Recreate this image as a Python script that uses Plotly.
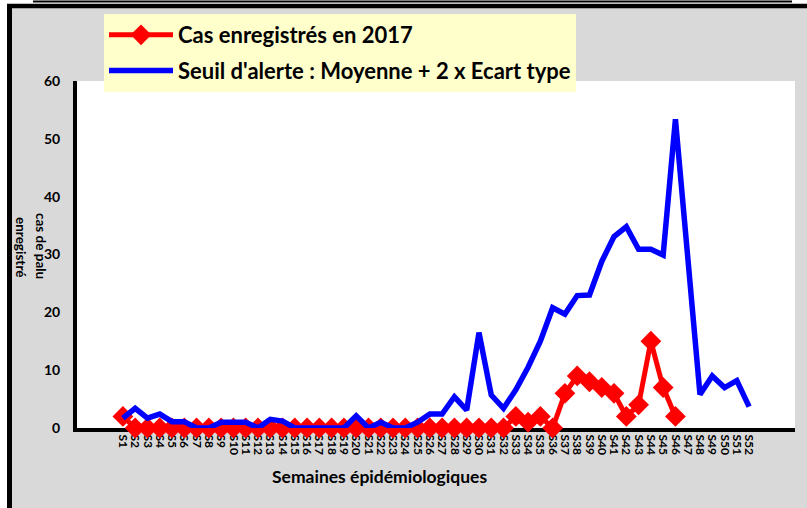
import plotly.graph_objects as go

weeks = [f"S{i}" for i in range(1, 53)]

cas_2017 = [2, 0, 0, 0, 0, 0, 0, 0, 0, 0,
            0, 0, 0, 0, 0, 0, 0, 0, 0, 0,
            0, 0, 0, 0, 0, 0, 0, 0, 0, 0,
            0, 0, 2, 1, 2, 0, 6, 9, 8, 7,
            6, 2, 4, 15, 7, 2, None, None, None, None,
            None, None]

seuil_alerte = [1.7, 3.4, 1.7, 2.4, 1.1, 1.1, 0, 0, 1, 1,
                1, 0, 1.5, 1.2, 0, 0, 0, 0, 0, 2.1,
                0, 1, 0, 0, 1, 2.4, 2.4, 5.4, 3.1, 16.5,
                5.7, 3.4, 6.6, 10.5, 15, 20.8, 19.7, 22.9, 23, 28.8,
                33.1, 34.8, 30.9, 30.9, 29.9, 53.4, 29.5, 5.8, 9, 7,
                8.2, 3.7]

y_ticks = [0, 10, 20, 30, 40, 50, 60]

FONT = "Lato"
W, H = 807, 508
L, R, T, B = 77, 12, 81, 80
PW, PH = W - L - R, H - T - B


def px_x(x):
    return (x - L) / PW


def px_y(y):
    return (H - B - y) / PH


fig = go.Figure()
fig.add_trace(go.Scatter(
    x=weeks, y=cas_2017, name="Cas enregistrés en 2017",
    mode="lines+markers",
    line=dict(color="#ff0000", width=5),
    marker=dict(symbol="diamond", size=16, color="#ff0000"),
    cliponaxis=False, legendgroup="a",
))
fig.add_trace(go.Scatter(
    x=weeks, y=seuil_alerte, name="Seuil d'alerte : Moyenne + 2 x Ecart type",
    mode="lines",
    line=dict(color="#0000ff", width=5.5),
    cliponaxis=False, legendgroup="b",
))

shapes = [
    dict(type="rect", xref="paper", yref="paper", x0=px_x(-5), x1=px_x(7), y0=px_y(H + 5), y1=px_y(-5),
         fillcolor="white", line=dict(width=0)),
    dict(type="rect", xref="paper", yref="paper", x0=px_x(-5), x1=px_x(W + 5), y0=px_y(4), y1=px_y(-5),
         fillcolor="white", line=dict(width=0)),
    dict(type="line", xref="paper", yref="paper", x0=px_x(33), x1=px_x(792), y0=px_y(1.5), y1=px_y(1.5),
         line=dict(color="black", width=2)),
    dict(type="line", xref="paper", yref="paper", x0=px_x(7), x1=px_x(W + 5), y0=px_y(6), y1=px_y(6),
         line=dict(color="black", width=4.5)),
    dict(type="line", xref="paper", yref="paper", x0=px_x(9.5), x1=px_x(9.5), y0=px_y(4), y1=px_y(H + 5),
         line=dict(color="black", width=5)),
]

fig.update_layout(
    width=W, height=H,
    margin=dict(l=L, r=R, t=T, b=B, autoexpand=False),
    paper_bgcolor="#d9d9d9",
    plot_bgcolor="white",
    font=dict(family=FONT, color="black", weight="bold"),
    showlegend=True,
    legend=dict(
        x=px_x(104), y=px_y(14), xanchor="left", yanchor="top",
        bgcolor="#ffffcc", borderwidth=0,
        font=dict(family=FONT, size=22, color="black", weight="bold"),
        tracegroupgap=4, traceorder="grouped",
        itemwidth=64,
    ),
    xaxis=dict(
        type="category", categoryorder="array", categoryarray=weeks,
        tickmode="array", tickvals=weeks, ticktext=weeks,
        showline=True, linecolor="black", linewidth=4, mirror=False,
        showgrid=False, zeroline=False, ticks="", tickangle=90,
        tickfont=dict(family=FONT, size=12, color="black", weight="bold"),
        layer="below traces", automargin=False,
    ),
    yaxis=dict(
        range=[0, 60], tickvals=y_ticks, ticktext=[str(v) for v in y_ticks],
        showline=True, linecolor="black", linewidth=4,
        showgrid=False, zeroline=False, ticks="",
        tickfont=dict(family=FONT, size=14, color="black", weight="bold"),
        ticklabelstandoff=10, layer="below traces", automargin=False,
    ),
    shapes=shapes,
    annotations=[
        dict(text="Semaines épidémiologiques", xref="paper", yref="paper",
             x=px_x(379), y=px_y(476), xanchor="center", yanchor="middle", showarrow=False,
             font=dict(family=FONT, size=17.5, color="black", weight="bold")),
        dict(text="cas de palu", xref="paper", yref="paper",
             x=px_x(41), y=px_y(246), xanchor="center", yanchor="middle", showarrow=False, textangle=90,
             font=dict(family=FONT, size=13.5, color="black", weight="bold")),
        dict(text="enregistré", xref="paper", yref="paper",
             x=px_x(21), y=px_y(247), xanchor="center", yanchor="middle", showarrow=False, textangle=90,
             font=dict(family=FONT, size=13.5, color="black", weight="bold")),
    ],
)

fig.write_html(
    "out.html",
    config={"displayModeBar": False},
    post_script="document.body.style.margin='0';document.body.style.overflow='hidden';",
)
